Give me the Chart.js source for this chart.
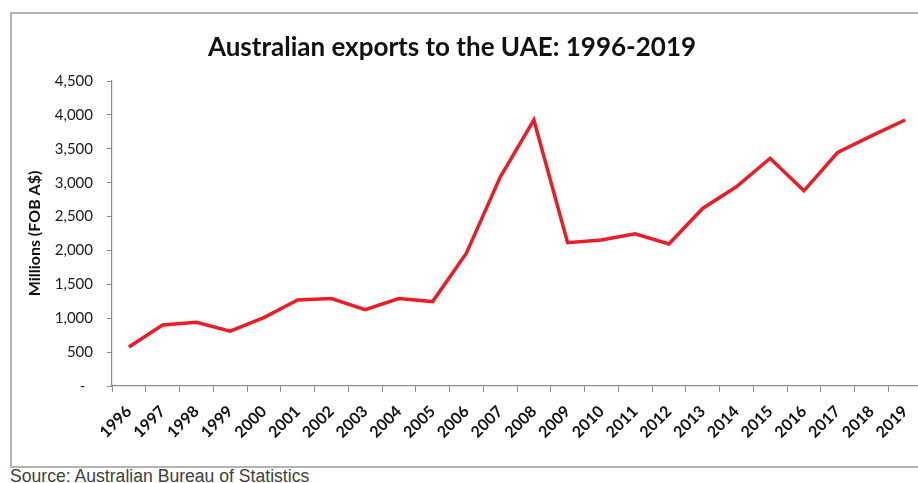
<!DOCTYPE html>
<html>
<head>
<meta charset="utf-8">
<script src="https://cdn.jsdelivr.net/npm/chart.js@4.4.1/dist/chart.umd.min.js"></script>
<style>
  html, body { margin: 0; padding: 0; background: #fff; overflow: hidden; width: 918px; height: 483px; }
  #frame { position: absolute; left: 10px; top: 12px; width: 960px; height: 452px; border: 2px solid #b4b4b4; box-sizing: content-box; }
  #wrap { position: absolute; left: 0; top: 0; width: 930px; height: 466px; }
  #title { position: absolute; left: 0; top: 31px; width: 904px; text-align: center; font-family: Lato, sans-serif; font-weight: bold; font-size: 26px; line-height: 1.2; color: #111; white-space: nowrap; }
  #source { position: absolute; left: 10px; top: 466px; font-family: "Liberation Sans", Arial, sans-serif; font-size: 17.6px; color: #404040; white-space: nowrap; }
</style>
</head>
<body>
<div id="frame"></div>
<div id="wrap"><canvas id="c" width="930" height="466"></canvas></div>
<div id="title">Australian exports to the UAE: 1996-2019</div>
<div id="source">Source: Australian Bureau of Statistics</div>
<script>
const years = ['1996','1997','1998','1999','2000','2001','2002','2003','2004','2005','2006','2007','2008','2009','2010','2011','2012','2013','2014','2015','2016','2017','2018','2019'];
const exportsUAE = [575, 900, 940, 810, 1010, 1270, 1290, 1125, 1290, 1245, 1960, 3080, 3925, 2115, 2155, 2245, 2095, 2620, 2940, 3360, 2880, 3445, 3690, 3925];
const yTicks = { min: 0, max: 4500, step: 500 };
const yTitle = 'Millions (FOB A$)';

const axisGray = '#8c8c8c';
new Chart(document.getElementById('c'), {
  type: 'line',
  data: {
    labels: years,
    datasets: [{
      data: exportsUAE,
      borderColor: '#ec1c24',
      borderWidth: 3.5,
      pointRadius: 0,
      tension: 0,
      fill: false
    }]
  },
  options: {
    responsive: false,
    animation: false,
    layout: { padding: { left: 20, right: 8, top: 81, bottom: 0 } },
    plugins: { legend: { display: false }, tooltip: { enabled: false }, title: { display: false } },
    scales: {
      x: {
        type: 'category',
        offset: true,
        grid: { offset: true, drawOnChartArea: false, drawTicks: true, tickLength: 6, color: axisGray },
        border: { color: axisGray, width: 1.2 },
        ticks: { autoSkip: false, minRotation: 45, maxRotation: 45, padding: 10, color: '#111',
                 font: { family: 'Lato', weight: 'bold', size: 16 } },
        afterFit: s => { s.height = 80; }
      },
      y: {
        min: yTicks.min, max: yTicks.max,
        grid: { drawOnChartArea: false, drawTicks: true, tickLength: 5, color: axisGray },
        border: { color: axisGray, width: 1.2 },
        ticks: { stepSize: yTicks.step, padding: 14, color: '#1a1a1a',
                 font: { family: 'Lato', size: 15 },
                 callback: v => v === 0 ? '-  ' : v.toLocaleString('en-US') },
        title: { display: true, text: yTitle, color: '#111', padding: { top: 5, bottom: 0 },
                 font: { family: 'Lato', weight: 'bold', size: 16 } },
        afterFit: s => { s.width = 92; }
      }
    }
  }
});
</script>
</body>
</html>
